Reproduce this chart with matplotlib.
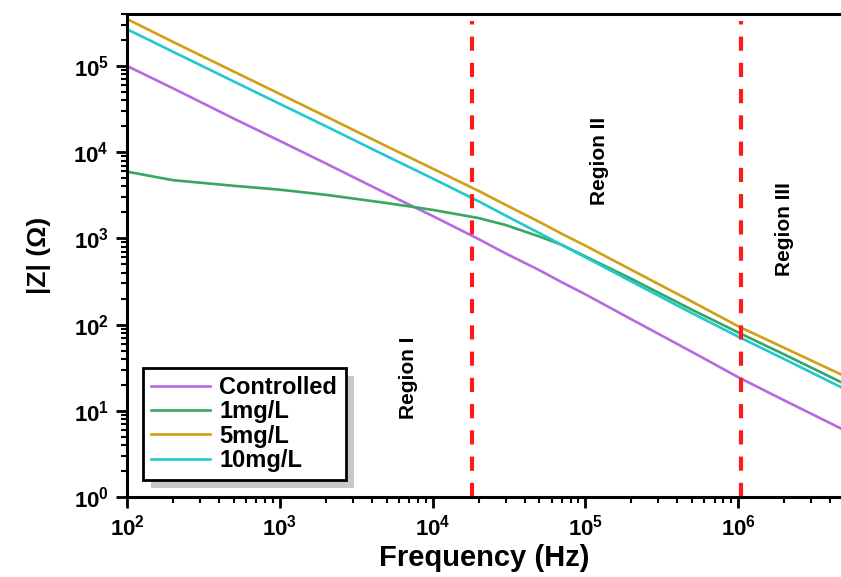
import numpy as np
import matplotlib
matplotlib.use('Agg')
import matplotlib.pyplot as plt
from matplotlib.ticker import LogLocator, FuncFormatter, NullFormatter
from matplotlib.patches import Rectangle

plt.rcParams['font.family'] = ['Liberation Sans', 'DejaVu Sans']
plt.rcParams['mathtext.fontset'] = 'custom'
plt.rcParams['mathtext.rm'] = 'Liberation Sans:bold'
plt.rcParams['mathtext.bf'] = 'Liberation Sans:bold'

freq = [1e2, 2e2, 5e2, 1e3, 2e3, 5e3, 1e4, 2e4, 3e4, 5e4, 7e4, 1e5, 2e5, 5e5, 1e6, 2e6, 5e6]

z_controlled = [1.0e5, 5.5e4, 2.45e4, 1.35e4, 7.4e3, 3.3e3, 1.82e3, 980, 670, 427, 310, 224, 115, 48, 24.5, 13.2, 5.9]
z_1mg = [5.94e3, 4.73e3, 4.07e3, 3.67e3, 3.2e3, 2.57e3, 2.14e3, 1.72e3, 1.43e3, 1.05e3, 841, 617, 339, 148, 81, 45, 20.4]
z_5mg = [3.5e5, 1.9e5, 8.6e4, 4.73e4, 2.6e4, 1.17e4, 6.45e3, 3.55e3, 2.45e3, 1.55e3, 1.13e3, 822, 431, 184, 95.5, 53.7, 25.1]
z_10mg = [2.67e5, 1.46e5, 6.6e4, 3.63e4, 2.0e4, 9.0e3, 4.95e3, 2.69e3, 1.84e3, 1.15e3, 840, 603, 316, 135, 72.4, 39.8, 17.8]

labels = ['Controlled', '1mg/L', '5mg/L', '10mg/L']
colors = ['#b66ae0', '#35a862', '#d19e14', '#1fc9cf']

region_bounds = [1.82e4, 1.04e6]
region_names = ['Region I', 'Region II', 'Region III']
region_pos = [(6.97e3, 24), (1.24e5, 7.9e3), (2.0e6, 1.28e3)]

fig = plt.figure(figsize=(8.41, 5.77), dpi=100)
ax = fig.add_axes([0.151, 0.1386, 0.849, 0.8371])

for z, lab, c in zip([z_controlled, z_1mg, z_5mg, z_10mg], labels, colors):
    ax.plot(freq, z, color=c, lw=1.9, label=lab)

for xb in region_bounds:
    ax.axvline(xb, ymin=0, ymax=0.985, color='#ff1a1a', lw=3, dashes=(3.4, 2.9))

for name, (xp, yp) in zip(region_names, region_pos):
    ax.text(xp, yp, name, rotation=90, ha='center', va='center',
            fontsize=15, fontweight='bold')

ax.set_xscale('log')
ax.set_yscale('log')
ax.set_xlim(1e2, 4.7e6)
ax.set_ylim(1, 4e5)

ax.xaxis.set_major_locator(LogLocator(base=10, numticks=10))
ax.yaxis.set_major_locator(LogLocator(base=10, numticks=10))
ax.xaxis.set_minor_locator(LogLocator(base=10, subs=np.arange(2, 10), numticks=20))
ax.yaxis.set_minor_locator(LogLocator(base=10, subs=np.arange(2, 10), numticks=20))
fmt = FuncFormatter(lambda v, p: r'$\mathbf{10^{%d}}$' % round(np.log10(v)))
ax.xaxis.set_major_formatter(fmt)
ax.yaxis.set_major_formatter(fmt)
ax.xaxis.set_minor_formatter(NullFormatter())
ax.yaxis.set_minor_formatter(NullFormatter())

ax.tick_params(which='major', direction='out', length=8, width=2, labelsize=16, pad=5)
ax.tick_params(which='minor', direction='out', length=4, width=1.5)
ax.spines['right'].set_visible(False)
for s in ['left', 'bottom', 'top']:
    ax.spines[s].set_linewidth(2.2)

ax.set_xlabel('Frequency (Hz)', fontsize=21, fontweight='bold', labelpad=2)
ax.set_ylabel('|Z| (Ω)', fontsize=19, fontweight='bold', labelpad=16)

leg = ax.legend(loc='lower left', bbox_to_anchor=(0.022, 0.035), borderaxespad=0,
                fancybox=False, edgecolor='black', framealpha=1,
                prop={'weight': 'bold', 'size': 17}, handlelength=2.5,
                labelspacing=0.05, borderpad=0.35, handletextpad=0.4)
leg.get_frame().set_linewidth(2)

# grey drop shadow behind the legend box
fig.canvas.draw()
bb = leg.get_window_extent().transformed(fig.transFigure.inverted())
dx, dy = 8 / fig.bbox.width, 8 / fig.bbox.height
shadow = Rectangle((bb.x0 + dx, bb.y0 - dy), bb.width, bb.height,
                   transform=fig.transFigure, facecolor='#c8c8c8',
                   edgecolor='none', zorder=4, clip_on=False)
ax.add_patch(shadow)

fig.savefig('out.png', dpi=100)
